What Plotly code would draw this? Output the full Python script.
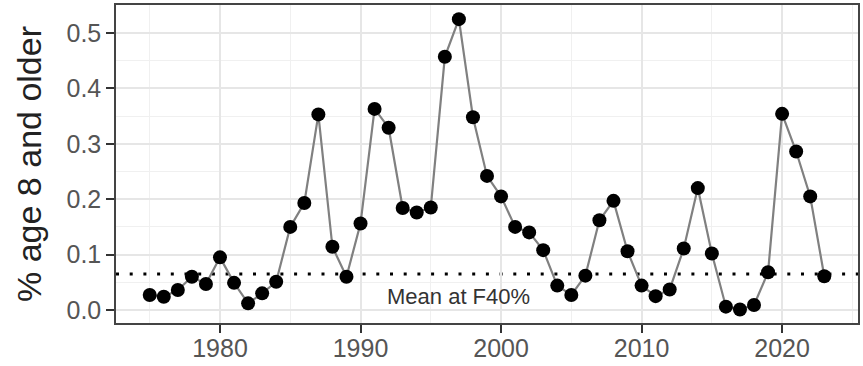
import plotly.graph_objects as go

years = list(range(1975, 2024))
pct_age8_plus = [
    0.027, 0.024, 0.036, 0.060, 0.047, 0.095, 0.049, 0.012, 0.030, 0.051,
    0.150, 0.193, 0.353, 0.114, 0.060, 0.156, 0.363, 0.329, 0.184, 0.176,
    0.185, 0.457, 0.525, 0.348, 0.242, 0.205, 0.150, 0.140, 0.108, 0.044,
    0.027, 0.062, 0.162, 0.197, 0.106, 0.044, 0.025, 0.037, 0.111, 0.220,
    0.102, 0.006, 0.001, 0.009, 0.068, 0.354, 0.286, 0.205, 0.061,
]
mean_f40 = 0.065
mean_label = "Mean at F40%"
mean_label_x = 1997
mean_label_y = 0.024
x_ticks = [1980, 1990, 2000, 2010, 2020]
y_ticks = [0.0, 0.1, 0.2, 0.3, 0.4, 0.5]

FONT = "Liberation Sans, Arial, sans-serif"

fig = go.Figure()
fig.add_trace(go.Scatter(
    x=years, y=pct_age8_plus, mode="lines",
    line=dict(color="#808080", width=2.2),
    showlegend=False, hoverinfo="skip",
))
fig.add_trace(go.Scatter(
    x=years, y=pct_age8_plus, mode="markers",
    marker=dict(color="black", size=14),
    showlegend=False,
))
fig.add_shape(
    type="line", xref="x domain", x0=0, x1=1, yref="y", y0=mean_f40, y1=mean_f40,
    line=dict(color="black", width=3, dash="3px,10.7px"), layer="below",
)
fig.add_annotation(
    x=mean_label_x, y=mean_label_y, text=mean_label, showarrow=False,
    font=dict(family=FONT, size=22, color="#333333"),
)

fig.update_layout(
    width=863, height=366,
    margin=dict(l=116, r=5, t=5, b=43, autoexpand=False),
    paper_bgcolor="white", plot_bgcolor="white",
    font=dict(family=FONT),
)
fig.update_xaxes(
    automargin=False,
    range=[1972.6, 2025.4], tickvals=x_ticks, ticktext=[str(v) for v in x_ticks],
    ticks="outside", ticklen=8, tickwidth=1.5, tickcolor="#333333",
    tickfont=dict(size=25, color="#555555", family=FONT),
    ticklabelstandoff=-6,
    showgrid=True, gridcolor="#e6e6e6", gridwidth=2,
    minor=dict(tickvals=[1975, 1985, 1995, 2005, 2015, 2025], showgrid=True,
               gridcolor="#f0f0f0", gridwidth=1, ticks=""),
    showline=True, mirror=True, linecolor="#444444", linewidth=1.5,
    zeroline=False,
)
fig.update_yaxes(
    automargin=False,
    range=[-0.0235, 0.5505], tickvals=y_ticks, ticktext=[f"{v:.1f}" for v in y_ticks],
    ticks="outside", ticklen=8, tickwidth=1.5, tickcolor="#333333",
    tickfont=dict(size=25, color="#555555", family=FONT),
    showgrid=True, gridcolor="#e6e6e6", gridwidth=2,
    minor=dict(tickvals=[0.05, 0.15, 0.25, 0.35, 0.45, 0.55], showgrid=True,
               gridcolor="#f0f0f0", gridwidth=1, ticks=""),
    showline=True, mirror=True, linecolor="#444444", linewidth=1.5,
    zeroline=False,
    title=dict(text="% age 8 and older", font=dict(size=34, color="#222222", family=FONT), standoff=15),
)

fig.write_html(
    "out.html",
    config={"displayModeBar": False},
    post_script="document.body.style.margin='0';document.body.style.padding='0';",
)
